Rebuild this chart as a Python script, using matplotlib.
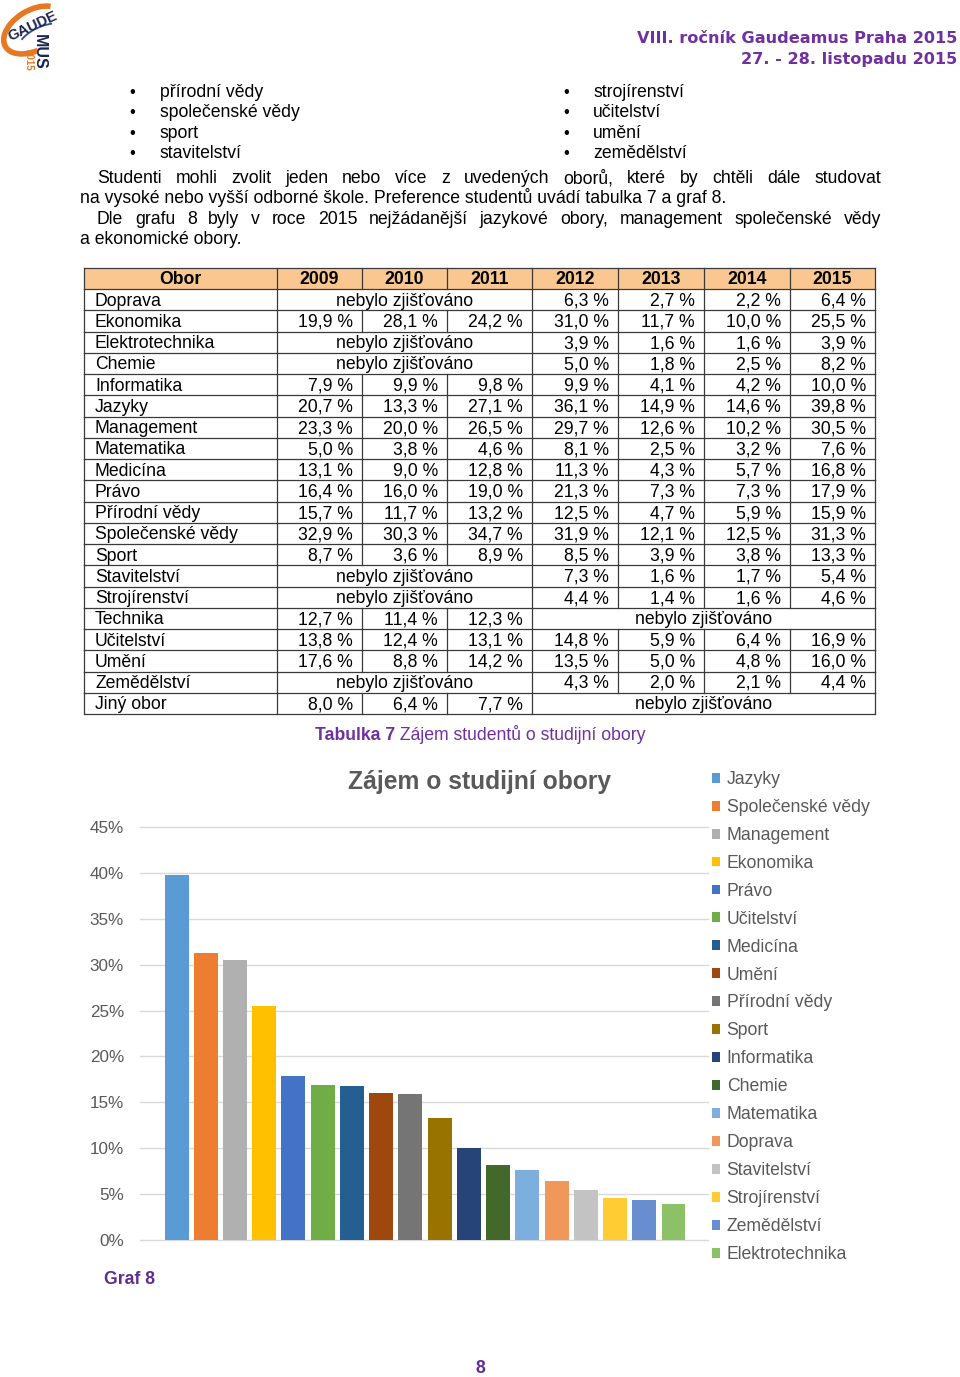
import matplotlib
matplotlib.use("Agg")
import matplotlib.pyplot as plt
import numpy as np
from matplotlib.patches import Rectangle, Arc

plt.rcParams['font.family'] = ['Liberation Sans', 'DejaVu Sans']

# --- text of the page ---
vypis_vlevo = ["přírodní vědy", "společenské vědy", "sport", "stavitelství"]
vypis_vpravo = ["strojírenství", "učitelství", "umění", "zemědělství"]
odstavec = [
    ("Studenti mohli zvolit jeden nebo více z uvedených oborů, které by chtěli dále studovat", True),
    ("na vysoké nebo vyšší odborné škole. Preference studentů uvádí tabulka 7 a graf 8.", False),
    ("Dle grafu 8 byly v roce 2015 nejžádanější jazykové obory, management společenské vědy", True),
    ("a ekonomické obory.", False),
]

# --- table 7 ---
roky = ["2009", "2010", "2011", "2012", "2013", "2014", "2015"]
obory = ["Doprava", "Ekonomika", "Elektrotechnika", "Chemie", "Informatika", "Jazyky",
         "Management", "Matematika", "Medicína", "Právo", "Přírodní vědy",
         "Společenské vědy", "Sport", "Stavitelství", "Strojírenství", "Technika",
         "Učitelství", "Umění", "Zemědělství", "Jiný obor"]
NA = None
h2009 = [NA, 19.9, NA, NA, 7.9, 20.7, 23.3, 5.0, 13.1, 16.4, 15.7, 32.9, 8.7, NA, NA, 12.7, 13.8, 17.6, NA, 8.0]
h2010 = [NA, 28.1, NA, NA, 9.9, 13.3, 20.0, 3.8, 9.0, 16.0, 11.7, 30.3, 3.6, NA, NA, 11.4, 12.4, 8.8, NA, 6.4]
h2011 = [NA, 24.2, NA, NA, 9.8, 27.1, 26.5, 4.6, 12.8, 19.0, 13.2, 34.7, 8.9, NA, NA, 12.3, 13.1, 14.2, NA, 7.7]
h2012 = [6.3, 31.0, 3.9, 5.0, 9.9, 36.1, 29.7, 8.1, 11.3, 21.3, 12.5, 31.9, 8.5, 7.3, 4.4, NA, 14.8, 13.5, 4.3, NA]
h2013 = [2.7, 11.7, 1.6, 1.8, 4.1, 14.9, 12.6, 2.5, 4.3, 7.3, 4.7, 12.1, 3.9, 1.6, 1.4, NA, 5.9, 5.0, 2.0, NA]
h2014 = [2.2, 10.0, 1.6, 2.5, 4.2, 14.6, 10.2, 3.2, 5.7, 7.3, 5.9, 12.5, 3.8, 1.7, 1.6, NA, 6.4, 4.8, 2.1, NA]
h2015 = [6.4, 25.5, 3.9, 8.2, 10.0, 39.8, 30.5, 7.6, 16.8, 17.9, 15.9, 31.3, 13.3, 5.4, 4.6, NA, 16.9, 16.0, 4.4, NA]
sloupce = [h2009, h2010, h2011, h2012, h2013, h2014, h2015]

# --- graph 8 (2015) ---
graf_obory = ["Jazyky", "Společenské vědy", "Management", "Ekonomika", "Právo", "Učitelství",
              "Medicína", "Umění", "Přírodní vědy", "Sport", "Informatika", "Chemie",
              "Matematika", "Doprava", "Stavitelství", "Strojírenství", "Zemědělství",
              "Elektrotechnika"]
graf_2015 = [39.8, 31.3, 30.5, 25.5, 17.9, 16.9, 16.8, 16.0, 15.9, 13.3, 10.0, 8.2,
             7.6, 6.4, 5.4, 4.6, 4.4, 3.9]
graf_barvy = ["#5B9BD5", "#ED7D31", "#B0B0B0", "#FFC000", "#4472C4", "#70AD47",
              "#255E91", "#9E480E", "#757575", "#997300", "#264478", "#43682B",
              "#7CAFDD", "#F1975A", "#C3C3C3", "#FFCD33", "#698ED0", "#8CC168"]

PURPLE = "#7030A0"
GREY = "#595959"
FS = 12.7

fig = plt.figure(figsize=(9.6, 13.77), dpi=100)
pg = fig.add_axes([0, 0, 1, 1])
pg.set_xlim(0, 960)
pg.set_ylim(1377, 0)
pg.axis("off")
rend = fig.canvas.get_renderer()


def width(t):
    return t.get_window_extent(rend).width


# logo (rough)
pg.add_patch(Arc((34, 30), 66, 40, angle=-30, theta1=110, theta2=335,
                 color="#E87722", lw=4))
pg.add_patch(Arc((42, 38), 50, 22, angle=-25, theta1=200, theta2=330,
                 color="#2E4A9A", lw=1.3))
pg.text(33, 26, "GAUDE", fontsize=10.5, weight="bold", color="#1B2550",
        rotation=25, ha="center", va="center")
pg.text(39, 52, "MUS", fontsize=11.5, weight="bold", color="#1B2550",
        rotation=-90, ha="center", va="center")
pg.text(29, 60, "2015", fontsize=7, weight="bold", color="#E87722",
        rotation=-90, ha="center", va="center")

# header
pg.text(957, 43, "VIII. ročník Gaudeamus Praha 2015", fontsize=11.6, weight="bold",
        color=PURPLE, ha="right", va="baseline", family="DejaVu Sans")
pg.text(957, 64, "27. - 28. listopadu 2015", fontsize=11.6, weight="bold",
        color=PURPLE, ha="right", va="baseline", family="DejaVu Sans")

# bullet lists
for i, (a, b) in enumerate(zip(vypis_vlevo, vypis_vpravo)):
    yb = 97 + i * 20.3
    pg.text(132, yb, "•", fontsize=12, ha="center", va="baseline")
    pg.text(160, yb, a, fontsize=FS, va="baseline")
    pg.text(566, yb, "•", fontsize=12, ha="center", va="baseline")
    pg.text(593, yb, b, fontsize=FS, va="baseline")

# paragraph (justified lines)
for i, (radek, zarovnat) in enumerate(odstavec):
    yb = 183 + i * 20.3
    x0 = 97 if radek[0] in "SD" else 80
    if not zarovnat:
        pg.text(x0, yb, radek, fontsize=FS, va="baseline")
        continue
    slova = [pg.text(0, yb, s, fontsize=FS, va="baseline") for s in radek.split()]
    ws = [width(t) for t in slova]
    mezera = (881 - x0 - sum(ws)) / (len(ws) - 1)
    x = x0
    for t, w in zip(slova, ws):
        t.set_x(x)
        x += w + mezera

# table
col_x = [84, 277, 362, 447, 532, 618, 704, 790, 875]
top, rh = 268, 21.24
lc, lw = "#3A3A3A", 0.9


def ry(r):
    return top + r * rh


pg.add_patch(Rectangle((col_x[0], ry(0)), col_x[-1] - col_x[0], rh,
                       fc="#F9C78F", ec="none"))
hdr = ["Obor"] + roky
for j, s in enumerate(hdr):
    pg.text((col_x[j] + col_x[j + 1]) / 2, ry(1) - 4.8, s, fontsize=FS,
            weight="bold", ha="center", va="baseline")
for x in col_x:
    pg.plot([x, x], [ry(0), ry(1)], color=lc, lw=lw)

for i, obor in enumerate(obory):
    r = i + 1
    yb = ry(r + 1) - 4.8
    pg.text(col_x[0] + 11, yb, obor, fontsize=FS, va="baseline")
    vals = [c[i] for c in sloupce]
    hranice = [col_x[0], col_x[1]]
    j = 0
    while j < len(vals):
        if vals[j] is None:
            k = j
            while k < len(vals) and vals[k] is None:
                k += 1
            pg.text((col_x[j + 1] + col_x[k + 1]) / 2, yb, "nebylo zjišťováno",
                    fontsize=FS, ha="center", va="baseline")
            j = k
        else:
            pg.text(col_x[j + 2] - 9, yb, f"{vals[j]:.1f} %".replace(".", ","),
                    fontsize=FS, ha="right", va="baseline")
            j += 1
        hranice.append(col_x[j + 1])
    for x in hranice:
        pg.plot([x, x], [ry(r), ry(r + 1)], color=lc, lw=lw)

for r in range(len(obory) + 2):
    pg.plot([col_x[0], col_x[-1]], [ry(r), ry(r)], color=lc, lw=lw)

# caption of the table
t1 = pg.text(0, 740, "Tabulka 7", fontsize=FS, weight="bold", color=PURPLE, va="baseline")
t2 = pg.text(0, 740, " Zájem studentů o studijní obory", fontsize=FS, color=PURPLE,
             va="baseline")
w1, w2 = width(t1), width(t2)
t1.set_x(480 - (w1 + w2) / 2)
t2.set_x(480 - (w1 + w2) / 2 + w1)

# chart
ax = fig.add_axes([140 / 960, (1377 - 1240) / 1377, (708 - 140) / 960, (1240 - 827) / 1377])
ax.set_facecolor("none")
x = np.arange(len(graf_2015))
for xi, v, c, nm in zip(x, graf_2015, graf_barvy, graf_obory):
    ax.bar(xi, v, width=0.82, color=c, label=nm, zorder=3)
ax.set_xlim(-1.25, len(x) - 1 + 1.18)
ax.set_ylim(0, 45)
ax.set_yticks(np.arange(0, 50, 5))
ax.set_yticklabels([f"{v}%" for v in range(0, 50, 5)])
ax.tick_params(axis="y", length=0, pad=11.5, labelsize=12.3, labelcolor=GREY)
ax.set_xticks([])
for s in ax.spines.values():
    s.set_visible(False)
ax.grid(axis="y", color="#D9D9D9", lw=1.0, zorder=0)
for gl in ax.get_ygridlines():
    gl.set_clip_on(False)

fig.text(480 / 960, 1 - 789 / 1377, "Zájem o studijní obory", fontsize=17.7,
         weight="bold", color=GREY, ha="center", va="baseline")

ax.legend(loc="upper left", bbox_to_anchor=(712 / 960, 1 - 771 / 1377),
          bbox_transform=fig.transFigure, frameon=False, fontsize=FS,
          handlelength=0.48, handleheight=0.48, handletextpad=0.35,
          labelspacing=0.62, borderpad=0, borderaxespad=0, labelcolor=GREY)

pg.text(104, 1284, "Graf 8", fontsize=FS, weight="bold", color="#5E2D91", va="baseline")
pg.text(480, 1373, "8", fontsize=FS, weight="bold", color="#5E2D91", ha="center",
        va="baseline")

fig.savefig("out.png", dpi=100)
